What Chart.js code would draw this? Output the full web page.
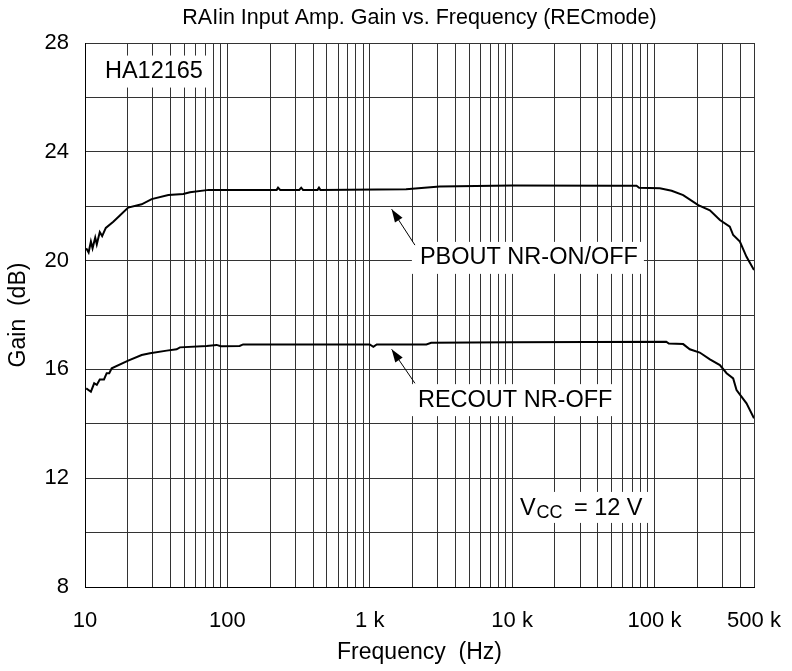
<!DOCTYPE html>
<html>
<head>
<meta charset="utf-8">
<script src="https://cdn.jsdelivr.net/npm/chart.js@4.4.0/dist/chart.umd.min.js"></script>
<style>
  html, body { margin: 0; padding: 0; background: #fff; }
  #wrap { width: 792px; height: 671px; }
</style>
</head>
<body>
<div id="wrap"><canvas id="chartGain" width="792" height="671"></canvas></div>
<script>
// ── data ────────────────────────────────────────────────────
const pbFreq = [10.2, 10.6, 11.0, 11.3, 11.8, 12.1, 12.7, 13.2, 14.0, 15.8, 17.5, 20.1, 25, 29.4, 38.5, 49, 54.6, 74,
  222, 227, 235, 320, 330, 340, 430, 440, 450, 1800, 3100, 10000, 51000, 74800, 78000, 109000, 132000, 159000,
  203000, 245000, 288000, 338000, 357000, 398000, 443000, 500000];
const pbGain = [20.45, 20.3, 20.7, 20.45, 20.85, 20.6, 21.05, 20.9, 21.2, 21.43, 21.65, 21.95, 22.07, 22.26, 22.41, 22.45, 22.51, 22.6,
  22.6, 22.68, 22.6, 22.6, 22.68, 22.6, 22.6, 22.68, 22.6, 22.62, 22.72, 22.76, 22.75, 22.75, 22.68, 22.66, 22.57, 22.41,
  22.04, 21.85, 21.49, 21.25, 20.94, 20.7, 20.14, 19.65];

const recFreq = [10.2, 11.0, 11.6, 12.1, 12.7, 13.6, 14.2, 14.8, 15.4, 20.1, 25, 28.6, 37.5, 44, 46.4, 71.6, 84, 90, 122, 129,
  1000, 1060, 1120, 2500, 2700, 10000, 121000, 126000, 159000, 177000, 208000, 245000, 288000, 321000, 357000, 377000, 443000, 500000];
const recGain = [15.3, 15.18, 15.49, 15.43, 15.63, 15.63, 15.86, 15.86, 16.04, 16.32, 16.53, 16.59, 16.69, 16.74, 16.81, 16.86, 16.9, 16.85, 16.86, 16.92,
  16.92, 16.83, 16.92, 16.92, 16.98, 17.0, 17.02, 16.95, 16.93, 16.74, 16.62, 16.37, 16.16, 15.86, 15.67, 15.24, 14.75, 14.2];

// ── axes ────────────────────────────────────────────────────
const decades = [10, 100, 1000, 10000, 100000];
const xGridTicks = decades.flatMap(d => [1, 2, 3, 4, 5, 6, 7, 8, 9].map(m => m * d)).filter(v => v <= 500000);
const xTickLabels = { 10: '10', 100: '100', 1000: '1 k', 10000: '10 k', 100000: '100 k', 500000: '500 k' };
const yGridTicks = [8, 10, 12, 14, 16, 18, 20, 22, 24, 26, 28];
const yTickLabels = [8, 12, 16, 20, 24, 28];

// ── notes on the plot ───────────────────────────────────────
const noteLabels = [
  { text: 'HA12165', f: 13.8, g: 26.95 },
  { text: 'PBOUT NR-ON/OFF', f: 2250, g: 20.1 },
  { text: 'RECOUT NR-OFF', f: 2180, g: 14.87 },
];
const noteArrows = [
  { from: [2077, 20.57], to: [1425, 21.89] },
  { from: [2077, 15.49], to: [1425, 16.74] },
];
const vccNote = { f: 11350, g: 10.65 };

const FONT = '"Liberation Sans", Arial, sans-serif';
Chart.defaults.color = '#000';
Chart.defaults.font.family = FONT;

const notesPlugin = {
  id: 'notes',
  beforeDatasetsDraw(chart) {
    const { ctx, scales: { x, y } } = chart;
    ctx.save();
    ctx.font = `23.5px ${FONT}`;
    ctx.textBaseline = 'middle';
    noteLabels.forEach(n => {
      const px = x.getPixelForValue(n.f), py = y.getPixelForValue(n.g);
      const w = ctx.measureText(n.text).width;
      ctx.fillStyle = '#fff';
      ctx.fillRect(px - 8, py - 16, w + 14, 32);
      ctx.fillStyle = '#000';
      ctx.fillText(n.text, px, py);
    });

    // Vcc = 12 V with subscript
    const vx = x.getPixelForValue(vccNote.f), vy = y.getPixelForValue(vccNote.g);
    ctx.fillStyle = '#fff';
    ctx.fillRect(vx - 5, vy - 23, 137, 31);
    ctx.fillStyle = '#000';
    ctx.textBaseline = 'alphabetic';
    ctx.font = `23.5px ${FONT}`;
    ctx.fillText('V', vx, vy);
    ctx.font = `18px ${FONT}`;
    ctx.fillText('CC', vx + 16.5, vy + 3);
    ctx.font = `23.5px ${FONT}`;
    ctx.fillText('= 12 V', vx + 54, vy);

    // arrows
    ctx.strokeStyle = '#000';
    ctx.lineWidth = 1;
    noteArrows.forEach(a => {
      const x0 = x.getPixelForValue(a.from[0]), y0 = y.getPixelForValue(a.from[1]);
      const x1 = x.getPixelForValue(a.to[0]), y1 = y.getPixelForValue(a.to[1]);
      const ang = Math.atan2(y1 - y0, x1 - x0);
      ctx.beginPath();
      ctx.moveTo(x0, y0);
      ctx.lineTo(x1, y1);
      ctx.stroke();
      ctx.beginPath();
      ctx.moveTo(x1, y1);
      ctx.lineTo(x1 - 13 * Math.cos(ang) + 4.5 * Math.sin(ang), y1 - 13 * Math.sin(ang) - 4.5 * Math.cos(ang));
      ctx.lineTo(x1 - 13 * Math.cos(ang) - 4.5 * Math.sin(ang), y1 - 13 * Math.sin(ang) + 4.5 * Math.cos(ang));
      ctx.closePath();
      ctx.fill();
    });
    ctx.restore();
  },
};

new Chart(document.getElementById('chartGain'), {
  type: 'line',
  data: {
    datasets: [
      {
        label: 'PBOUT NR-ON/OFF',
        data: pbFreq.map((f, i) => ({ x: f, y: pbGain[i] })),
        borderColor: '#000',
        borderWidth: 2,
        pointRadius: 0,
        tension: 0,
      },
      {
        label: 'RECOUT NR-OFF',
        data: recFreq.map((f, i) => ({ x: f, y: recGain[i] })),
        borderColor: '#000',
        borderWidth: 2,
        pointRadius: 0,
        tension: 0,
      },
    ],
  },
  options: {
    responsive: false,
    animation: false,
    devicePixelRatio: 1,
    layout: { padding: { left: 0, right: 38, top: 0, bottom: 0 } },
    plugins: {
      legend: { display: false },
      tooltip: { enabled: false },
      title: {
        display: true,
        fullSize: false,
        text: 'RAIin Input Amp. Gain vs. Frequency (RECmode)',
        font: { size: 21.5, weight: 'normal' },
        color: '#000',
        padding: { top: 5, bottom: 12.2 },
      },
    },
    scales: {
      x: {
        type: 'logarithmic',
        min: 10,
        max: 500000,
        afterBuildTicks: s => { s.ticks = xGridTicks.map(v => ({ value: v })); },
        afterFit: s => { s.height = 84; s.paddingLeft = 0; s.paddingRight = 0; },
        grid: { color: '#333', lineWidth: 1, drawTicks: false },
        border: { color: '#000', width: 1 },
        ticks: {
          autoSkip: false, maxRotation: 0, minRotation: 0, padding: 21,
          font: { size: 22 },
          callback: v => xTickLabels[v] || '',
        },
        title: { display: true, text: 'Frequency  (Hz)', font: { size: 23 }, padding: { top: 0, bottom: 4.7 } },
      },
      y: {
        type: 'linear',
        min: 8,
        max: 28,
        afterBuildTicks: s => { s.ticks = yGridTicks.map(v => ({ value: v })); },
        afterFit: s => { s.width = 85; s.paddingTop = 0; s.paddingBottom = 0; },
        grid: { color: '#333', lineWidth: 1, drawTicks: false },
        border: { color: '#000', width: 1 },
        ticks: {
          padding: 16,
          font: { size: 22 },
          callback: v => yTickLabels.includes(v) ? String(v) : '',
        },
        title: { display: true, text: 'Gain  (dB)', font: { size: 23 }, padding: { top: 5, bottom: 0 } },
      },
    },
  },
  plugins: [notesPlugin],
});
</script>
</body>
</html>
